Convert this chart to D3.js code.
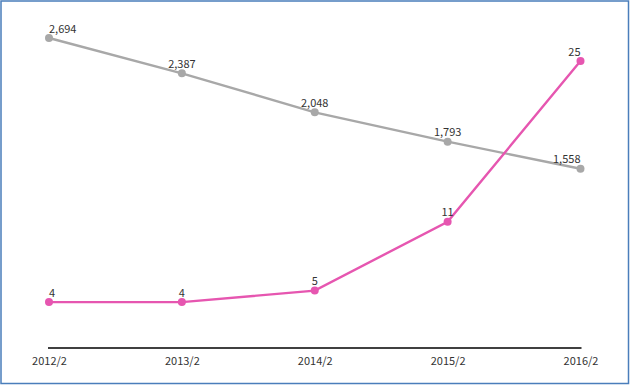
<!DOCTYPE html>
<html><head><meta charset="utf-8">
<script src="https://cdn.jsdelivr.net/npm/d3@7"></script>
<style>
html,body{margin:0;padding:0;background:#fff;}
svg{display:block;}
</style></head>
<body>
<svg id="chart" width="630" height="385"></svg>
<script>
const categories = ["2012/2","2013/2","2014/2","2015/2","2016/2"];
const greyValues = [2694, 2387, 2048, 1793, 1558];
const pinkValues = [4, 4, 5, 11, 25];

const W = 630, H = 385;
const svg = d3.select("#chart");
const font = "'Noto Sans CJK JP', 'Noto Sans', sans-serif";

svg.append("rect").attr("x",1).attr("y",1).attr("width",W-2.5).attr("height",H-2.5)
  .attr("fill","#fff").attr("stroke","#4a7ebb").attr("stroke-width",1.5);

const x = d3.scalePoint().domain(categories).range([49, 580.5]);
const yGrey = d3.scaleLinear().domain([0, 2694]).range([348, 38]);
const yPink = d3.scaleLinear().domain([0, 25]).range([348, 61]);

// x axis
const xAxis = d3.axisBottom(x).tickSize(0).tickPadding(9);
const gx = svg.append("g").attr("transform","translate(0,348)").call(xAxis);
gx.select(".domain").attr("stroke","#404040").attr("stroke-width",2.2).attr("d","M48,0H581.5");
gx.selectAll("text").attr("font-family",font).attr("font-size",11).attr("fill","#333");

function series(vals, y, color){
  const g = svg.append("g");
  const line = d3.line().x((d,i)=>x(categories[i])).y(d=>y(d));
  g.append("path").datum(vals).attr("d",line).attr("fill","none")
    .attr("stroke",color).attr("stroke-width",2.4);
  g.selectAll("circle").data(vals).join("circle")
    .attr("cx",(d,i)=>x(categories[i])).attr("cy",d=>y(d)).attr("r",4).attr("fill",color);
  g.selectAll("text").data(vals).join("text")
    .attr("x",(d,i)=>x(categories[i])).attr("y",d=>y(d)-5.5)
    .attr("text-anchor",(d,i)=> i===0 ? "start" : (i===vals.length-1 ? "end" : "middle"))
    .attr("font-family",font).attr("font-size",11).attr("fill","#333")
    .text(d=>d3.format(",")(d));
}
series(greyValues, yGrey, "#a8a8a8");
series(pinkValues, yPink, "#e656b0");
</script>
</body></html>
